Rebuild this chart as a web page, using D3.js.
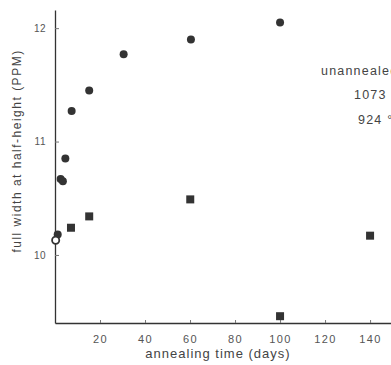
<!DOCTYPE html>
<html><head><meta charset="utf-8">
<script src="https://cdn.jsdelivr.net/npm/d3@7"></script>
<style>body{margin:0;background:#fff}svg{display:block}</style>
</head><body>
<svg id="c" width="391" height="365"></svg>
<script>
// data
const circleDays = [1.2, 2.5, 3.5, 4.6, 7.4, 15.2, 30.5, 60.4, 100];
const circleFWHH = [10.18, 10.67, 10.65, 10.85, 11.27, 11.45, 11.77, 11.90, 12.05];
const openDays = [0.3];
const openFWHH = [10.13];
const squareDays = [7.1, 15.2, 60.1, 100, 140];
const squareFWHH = [10.24, 10.34, 10.49, 9.46, 10.17];
const xTicks = [20, 40, 60, 80, 100, 120, 140];
const yTicks = [10, 11, 12];
const legendLabels = ["unannealed", "1073 °C", "924 °C"];

const svg = d3.select("#c");
const ink = "#333";
const x = d3.scaleLinear().domain([0, 149.3]).range([55, 391]);
const y = d3.scaleLinear().domain([9.4, 12.16]).range([323, 10]);

const xAxis = svg.append("g").attr("transform", `translate(0,${y(9.4)})`)
  .call(d3.axisBottom(x).tickValues(xTicks).tickFormat(d3.format("d")).tickSizeInner(-3).tickSizeOuter(0).tickPadding(12));
const yAxis = svg.append("g").attr("transform", `translate(${x(0)},0)`)
  .call(d3.axisLeft(y).tickValues(yTicks).tickFormat(d3.format("d")).tickSizeInner(-4).tickSizeOuter(0).tickPadding(9));
[xAxis, yAxis].forEach(g => {
  g.select(".domain").attr("stroke", ink).attr("stroke-width", 1.3);
  g.selectAll(".tick line").attr("stroke", "#777");
  g.selectAll("text").attr("fill", "#555").attr("font-family", "Liberation Sans, Arial")
    .attr("font-size", 11).attr("letter-spacing", 1.4);
});
yAxis.selectAll(".tick text").attr("font-size", 10).attr("letter-spacing", 0.5);

svg.append("text").attr("x", 218).attr("y", 358).attr("text-anchor", "middle")
  .attr("font-family", "Liberation Sans, Arial").attr("font-size", 13).attr("letter-spacing", 1)
  .attr("fill", "#444").text("annealing time (days)");
svg.append("text").attr("transform", "translate(21,151) rotate(-90)").attr("text-anchor", "middle")
  .attr("font-family", "Liberation Sans, Arial").attr("font-size", 12).attr("letter-spacing", 1.5)
  .attr("fill", "#444").text("full width at half-height (PPM)");

// markers
svg.append("g").selectAll("circle.f").data(circleDays).join("circle")
  .attr("cx", d => x(d)).attr("cy", (d, i) => y(circleFWHH[i])).attr("r", 4)
  .attr("fill", ink);
svg.append("g").selectAll("circle.o").data(openDays).join("circle")
  .attr("cx", d => x(d)).attr("cy", (d, i) => y(openFWHH[i])).attr("r", 3.6)
  .attr("fill", "#fff").attr("stroke", ink).attr("stroke-width", 1.8);
svg.append("g").selectAll("rect").data(squareDays).join("rect")
  .attr("x", d => x(d) - 4).attr("y", (d, i) => y(squareFWHH[i]) - 4)
  .attr("width", 8).attr("height", 8).attr("fill", ink);

// legend (cut at right edge, as in the reference)
const legX = [321, 354, 358];
const legY = [75, 99, 124];
svg.append("g").selectAll("text").data(legendLabels).join("text")
  .attr("x", (d, i) => legX[i]).attr("y", (d, i) => legY[i])
  .attr("font-family", "Liberation Sans, Arial").attr("font-size", 12.5).attr("letter-spacing", 1.2)
  .attr("fill", "#444").text(d => d);
</script>
</body></html>
